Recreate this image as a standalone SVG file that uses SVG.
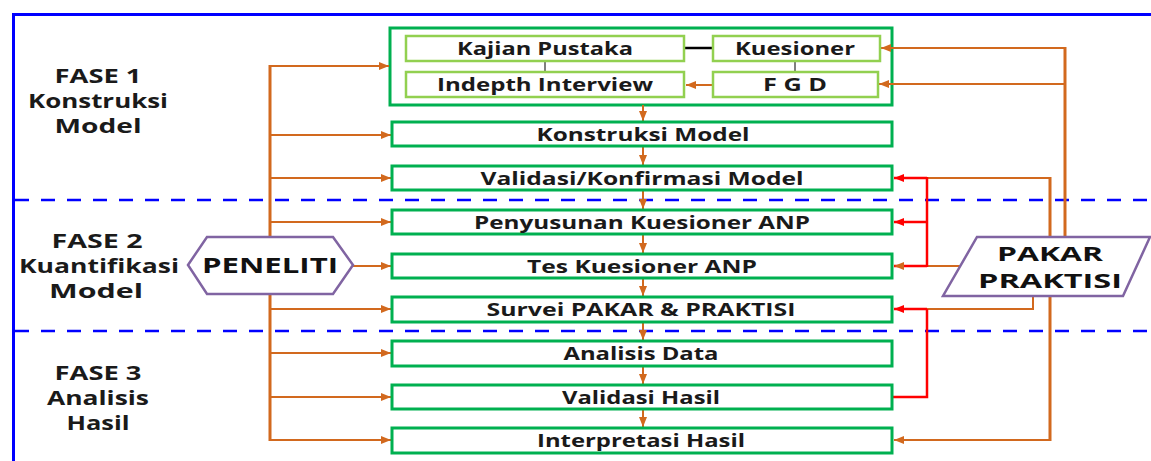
<svg xmlns="http://www.w3.org/2000/svg" width="1151" height="461" viewBox="0 0 1151 461">
<style>
text{font-family:"Open Sans","DejaVu Sans",sans-serif;font-weight:bold;fill:#1a1a1a;text-anchor:middle;}
.ph{font-size:20px;}
.bx{font-size:17px;}
.big{font-size:22px;fill:#111;}
.big2{font-size:19px;fill:#111;}
.main{fill:#fff;stroke:#00B050;stroke-width:3;}
.sub{fill:#fff;stroke:#92D050;stroke-width:2.5;}
.or{fill:none;stroke:#D2691E;stroke-width:2;}
.ort{fill:none;stroke:#D2691E;stroke-width:3;}
.rd{fill:none;stroke:#FF0000;stroke-width:2.5;}
.dash{stroke:#0000FF;stroke-width:2.5;stroke-dasharray:14 12;}
.actor{fill:#fff;stroke:#8064A2;stroke-width:2.5;}
</style>
<defs>
<marker id="ao" markerUnits="userSpaceOnUse" markerWidth="10" markerHeight="8" refX="10" refY="4" orient="auto"><path d="M0,0 L10,4 L0,8 z" fill="#D2691E"/></marker>
<marker id="ar" markerUnits="userSpaceOnUse" markerWidth="10" markerHeight="8" refX="10" refY="4" orient="auto"><path d="M0,0 L10,4 L0,8 z" fill="#FF0000"/></marker>
</defs>
<rect width="1151" height="461" fill="#fff"/>
<g id="frame">
<path d="M13.5,461 V14.5 H1151" fill="none" stroke="#0000FF" stroke-width="3"/>
<line class="dash" x1="15" y1="200" x2="1151" y2="200"/>
<line class="dash" x1="15" y1="331" x2="1151" y2="331"/>
</g>
<g id="phase-labels">
<text class="ph" x="98" y="83" textLength="87" lengthAdjust="spacingAndGlyphs">FASE 1</text>
<text class="ph" x="98" y="108" textLength="140" lengthAdjust="spacingAndGlyphs">Konstruksi</text>
<text class="ph" x="98" y="133" textLength="87" lengthAdjust="spacingAndGlyphs">Model</text>
<text class="ph" x="97" y="248" textLength="91" lengthAdjust="spacingAndGlyphs">FASE 2</text>
<text class="ph" x="99" y="273" textLength="160" lengthAdjust="spacingAndGlyphs">Kuantifikasi</text>
<text class="ph" x="96" y="298" textLength="94" lengthAdjust="spacingAndGlyphs">Model</text>
<text class="ph" x="98" y="380" textLength="87" lengthAdjust="spacingAndGlyphs">FASE 3</text>
<text class="ph" x="98" y="405" textLength="102" lengthAdjust="spacingAndGlyphs">Analisis</text>
<text class="ph" x="98" y="430" textLength="63" lengthAdjust="spacingAndGlyphs">Hasil</text>
</g>
<g id="phase1-inputs">
<rect class="main" x="390" y="28" width="502" height="77"/>
</g>
<g id="connectors">
<line x1="684" y1="48" x2="713" y2="48" stroke="#000" stroke-width="2.5"/>
<line x1="545" y1="61" x2="545" y2="72" stroke="#555" stroke-width="1.5"/>
<line x1="795" y1="61" x2="795" y2="72" stroke="#555" stroke-width="1.5"/>
<line class="or" x1="713" y1="85" x2="686" y2="85" marker-end="url(#ao)"/>
<line class="or" x1="643" y1="105" x2="643" y2="121" marker-end="url(#ao)"/>
<line class="or" x1="643" y1="147" x2="643" y2="165" marker-end="url(#ao)"/>
<line class="or" x1="643" y1="191" x2="643" y2="209" marker-end="url(#ao)"/>
<line class="or" x1="643" y1="235" x2="643" y2="253" marker-end="url(#ao)"/>
<line class="or" x1="643" y1="279" x2="643" y2="296" marker-end="url(#ao)"/>
<line class="or" x1="643" y1="323" x2="643" y2="340" marker-end="url(#ao)"/>
<line class="or" x1="643" y1="367" x2="643" y2="384" marker-end="url(#ao)"/>
<line class="or" x1="643" y1="410" x2="643" y2="427" marker-end="url(#ao)"/>
<line class="ort" x1="270" y1="65" x2="270" y2="441"/>
<line class="or" x1="270" y1="66" x2="389" y2="66" marker-end="url(#ao)"/>
<line class="or" x1="270" y1="135" x2="391" y2="135" marker-end="url(#ao)"/>
<line class="or" x1="270" y1="178" x2="391" y2="178" marker-end="url(#ao)"/>
<line class="or" x1="270" y1="222" x2="391" y2="222" marker-end="url(#ao)"/>
<line class="or" x1="353" y1="266" x2="391" y2="266" marker-end="url(#ao)"/>
<line class="or" x1="270" y1="309" x2="391" y2="309" marker-end="url(#ao)"/>
<line class="or" x1="270" y1="353" x2="391" y2="353" marker-end="url(#ao)"/>
<line class="or" x1="270" y1="397" x2="391" y2="397" marker-end="url(#ao)"/>
<line class="or" x1="270" y1="440" x2="391" y2="440" marker-end="url(#ao)"/>
<path class="ort" d="M1065,240 V47"/>
<line class="or" x1="1066" y1="48" x2="881" y2="48" marker-end="url(#ao)"/>
<line class="or" x1="1065" y1="84" x2="879" y2="84" marker-end="url(#ao)"/>
<path class="ort" d="M1050,441 V177"/>
<line class="or" x1="1051" y1="178" x2="927" y2="178"/>
<line class="or" x1="1051" y1="440" x2="894" y2="440" marker-end="url(#ao)"/>
<line class="or" x1="962" y1="266" x2="927" y2="266"/>
<path class="or" d="M1033,296 V309 H927" stroke-width="2.5"/>
<line class="rd" x1="927" y1="177" x2="927" y2="267" stroke-width="3"/>
<line class="rd" x1="927" y1="178" x2="894" y2="178" marker-end="url(#ar)"/>
<line class="rd" x1="927" y1="222" x2="894" y2="222" marker-end="url(#ar)"/>
<line class="rd" x1="927" y1="266" x2="894" y2="266" marker-end="url(#ao)"/>
<path class="rd" d="M893,397 H927 V309"/>
<line class="rd" x1="927" y1="309" x2="894" y2="309" marker-end="url(#ar)"/>
</g>
<g id="kajian-pustaka"><rect class="sub" x="406" y="36" width="278" height="25"/><text class="bx" x="545" y="55" textLength="176" lengthAdjust="spacingAndGlyphs">Kajian Pustaka</text></g>
<g id="kuesioner"><rect class="sub" x="713" y="36" width="167" height="25"/><text class="bx" x="795" y="55" textLength="120" lengthAdjust="spacingAndGlyphs">Kuesioner</text></g>
<g id="indepth-interview"><rect class="sub" x="406" y="72" width="278" height="25"/><text class="bx" x="545" y="91" textLength="216" lengthAdjust="spacingAndGlyphs">Indepth Interview</text></g>
<g id="fgd"><rect class="sub" x="713" y="72" width="165" height="25"/><text class="bx" x="795" y="91" textLength="64" lengthAdjust="spacingAndGlyphs">F G D</text></g>
<g id="konstruksi-model"><rect class="main" x="392" y="122" width="500" height="24"/><text class="bx" x="643" y="141" textLength="213" lengthAdjust="spacingAndGlyphs">Konstruksi Model</text></g>
<g id="validasi-model"><rect class="main" x="392" y="166" width="500" height="24"/><text class="bx" x="642" y="185" textLength="323" lengthAdjust="spacingAndGlyphs">Validasi/Konfirmasi Model</text></g>
<g id="penyusunan"><rect class="main" x="392" y="210" width="500" height="24"/><text class="bx" x="642" y="229" textLength="336" lengthAdjust="spacingAndGlyphs">Penyusunan Kuesioner ANP</text></g>
<g id="tes-kuesioner"><rect class="main" x="392" y="254" width="500" height="24"/><text class="bx" x="642" y="273" textLength="230" lengthAdjust="spacingAndGlyphs">Tes Kuesioner ANP</text></g>
<g id="survei"><rect class="main" x="392" y="297" width="500" height="25"/><text class="bx" x="641" y="316" textLength="309" lengthAdjust="spacingAndGlyphs">Survei PAKAR &amp; PRAKTISI</text></g>
<g id="analisis-data"><rect class="main" x="392" y="341" width="500" height="25"/><text class="bx" x="641" y="360" textLength="155" lengthAdjust="spacingAndGlyphs">Analisis Data</text></g>
<g id="validasi-hasil"><rect class="main" x="392" y="385" width="500" height="24"/><text class="bx" x="641" y="404" textLength="158" lengthAdjust="spacingAndGlyphs">Validasi Hasil</text></g>
<g id="interpretasi-hasil"><rect class="main" x="392" y="428" width="500" height="25"/><text class="bx" x="641" y="447" textLength="208" lengthAdjust="spacingAndGlyphs">Interpretasi Hasil</text></g>
<g id="peneliti">
<polygon class="actor" points="188,265 207,237 333,237 353,265 333,294 207,294"/>
<text class="big" x="270" y="273" textLength="136" lengthAdjust="spacingAndGlyphs">PENELITI</text>
</g>
<g id="pakar-praktisi">
<polygon class="actor" points="977,237 1150,237 1123,296 943,296"/>
<text class="big2" x="1050" y="261" textLength="106" lengthAdjust="spacingAndGlyphs">PAKAR</text>
<text class="big2" x="1050" y="288" textLength="144" lengthAdjust="spacingAndGlyphs">PRAKTISI</text>
</g>
</svg>
